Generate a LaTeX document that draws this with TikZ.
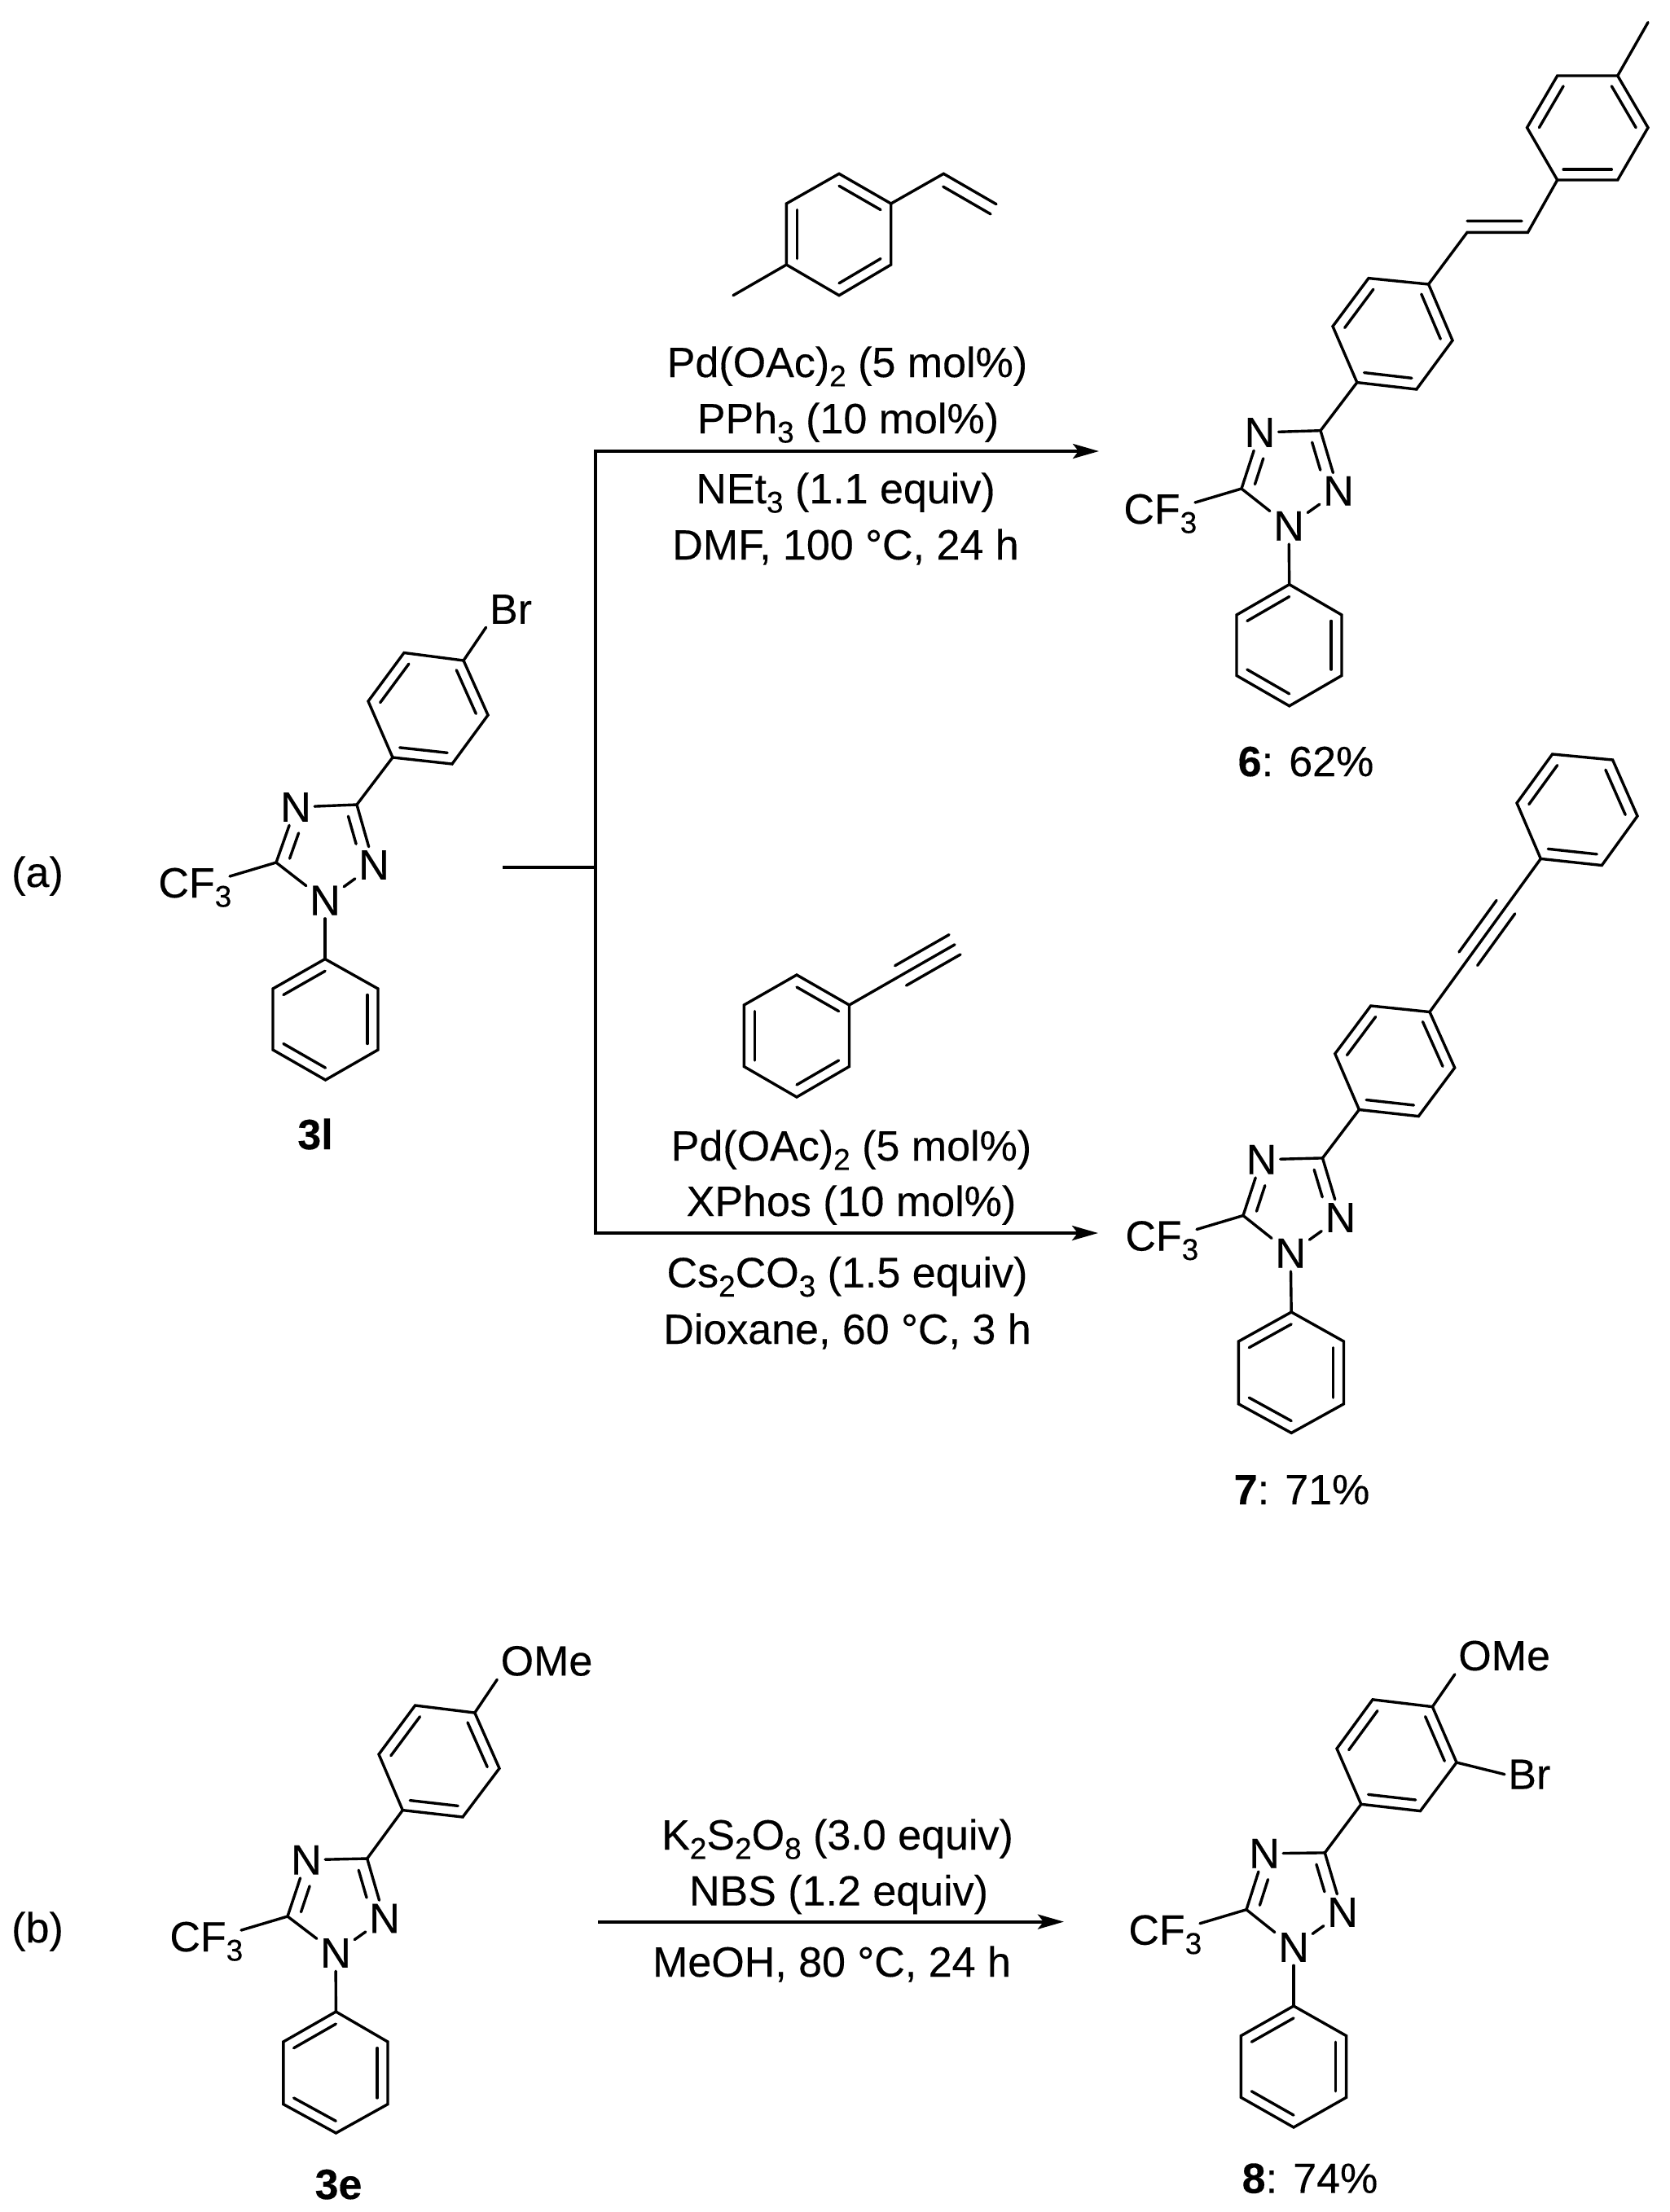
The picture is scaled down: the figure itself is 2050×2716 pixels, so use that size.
\documentclass[tikz,border=0pt]{standalone}
\usepackage{fontspec}
\setmainfont{Liberation Sans}[FakeBold=0.25]
\usetikzlibrary{calc}
\usetikzlibrary{arrows.meta}

\tikzset{
  bond/.style={line width=1.7pt, line cap=round},
  rxnline/.style={line width=2pt},
  rxnarrow/.style={line width=2pt, -{Stealth[length=16pt,width=9pt,inset=3.5pt]}},
  atom/.style={inner sep=2pt, font=\fontsize{26}{30}\selectfont},
  lab/.style={inner sep=0pt, anchor=base, font=\fontsize{26}{30}\selectfont}
}

\newcommand{\chemsub}[1]{\raisebox{-0.22em}{\fontsize{18.5}{18.5}\selectfont #1}}

% inner line of a double or triple bond
\newcommand{\sidebond}[5]{\draw[bond] ($(#1)!#3!(#2)+(#1)!7pt!#5:(#2)-(#1)$) -- ($(#1)!#4!(#2)+(#1)!7pt!#5:(#2)-(#1)$);}

% six vertices, double bonds on 1-2, 3-4, 5-6
\newcommand{\benzring}[7]{
  \coordinate (#11) at #2; \coordinate (#12) at #3; \coordinate (#13) at #4;
  \coordinate (#14) at #5; \coordinate (#15) at #6; \coordinate (#16) at #7;
  \coordinate (#1m) at ($(#11)!.5!(#14)$);
  \draw[bond] (#11) -- (#12) -- (#13) -- (#14) -- (#15) -- (#16) -- cycle;
  \foreach \a/\b in {1/2,3/4,5/6}
    {\draw[bond] ($(#1m)!.8!(#1\a)$) -- ($(#1m)!.8!(#1\b)$);}
}

% C3, N4, C5, N2, N1 of the ring, with its CF3
\newcommand{\triazole}[6]{
  \coordinate (#1c3) at #2;
  \node[atom] (#1n4) at #3 {N};
  \coordinate (#1c5) at #4;
  \node[atom] (#1n2) at #5 {N};
  \node[atom] (#1n1) at #6 {N};
  \coordinate (#1x) at ($(#1c5)+(-57,17)$);
  \node[atom, inner sep=0pt, anchor=base west] (#1cf) at ($(#1c5)+(-145,43)$) {CF\chemsub{3}};
  \draw[bond] (#1c3) -- (#1n4);
  \draw[bond] (#1c3) -- (#1n2);
  \draw[bond] (#1c5) -- (#1n4);
  \draw[bond] (#1c5) -- (#1n1);
  \draw[bond] (#1n1) -- (#1n2);
  \draw[bond] (#1c5) -- (#1x);
  \sidebond{#1c3}{#1n2}{.14}{.6}{-90}
  \sidebond{#1c5}{#1n4}{.14}{.6}{-90}
}

\begin{document}
\begin{tikzpicture}[x=0.5pt,y=-0.5pt]
  \useasboundingbox (0,0) rectangle (2050,2716);

  % (a), starting material
  \node[lab] (tagA) at (46,1089) {(a)};
  \benzring{a}{(452,861)}{(496,801.5)}{(569,811)}{(599,878)}{(555,938)}{(482,930)}
  \benzring{p}{(335,1214)}{(399,1177.5)}{(464,1214)}{(464,1289)}{(399.5,1326)}{(335,1289)}
  \triazole{t}{(438,988)}{(363,991)}{(339,1059)}{(459,1062)}{(399,1105.6)}
  \node[atom] (br) at (627,748) {Br};
  \draw[bond] (a3) -- (br.south west);
  \draw[bond] (tc3) -- (a6);
  \draw[bond] (tn1) -- (p2);
  \node[lab] (sm) at (387,1411) {\textbf{3l}};

  % branching arrows
  \coordinate (stub) at (617,1065);
  \coordinate (fork) at (731,1065);
  \coordinate (forkUp) at (731,554);
  \coordinate (forkDn) at (731,1514);
  \coordinate (tipUp) at (1349,554);
  \coordinate (tipDn) at (1348,1514);
  \draw[rxnline] (stub) -- (fork);
  \draw[rxnline, line cap=rect] (forkUp) -- (forkDn);
  \draw[rxnarrow] (forkUp) -- (tipUp);
  \draw[rxnarrow] (forkDn) -- (tipDn);

  % vinyl toluene
  \benzring{v}{(1030,213.3)}{(1093.75,250)}{(1093.75,325)}{(1030,362.7)}{(965.4,325)}{(965.4,250)}
  \coordinate (vme) at (900,362.7);
  \coordinate (vch) at (1158.3,213.3);
  \coordinate (vcb) at (1223,250.7);
  \draw[bond] (v5) -- (vme);
  \draw[bond] (v2) -- (vch) -- (vcb);
  \sidebond{vch}{vcb}{.1}{1}{-90}
  \node[lab] (upA) at (1040,463) {Pd(OAc)\chemsub{2} (5 mol\%)};
  \node[lab] (upB) at (1041,532) {PPh\chemsub{3} (10 mol\%)};
  \node[lab] (upC) at (1038,618) {NEt\chemsub{3} (1.1 equiv)};
  \node[lab] (upD) at (1038,687) {DMF, 100 °C, 24 h};

  % product 6
  \benzring{e}{(1874.5,156.7)}{(1911.7,93)}{(1985.7,93)}{(2023,156.7)}{(1985.7,221)}{(1911.7,221)}
  \benzring{f}{(1636,400.7)}{(1680,341.6)}{(1753.6,349)}{(1783,418)}{(1738.8,478)}{(1665.8,469.6)}
  \benzring{g}{(1518,755)}{(1582.7,717.6)}{(1647,755)}{(1647,829.5)}{(1582.7,866.8)}{(1518,829.5)}
  \triazole{u}{(1621,528.7)}{(1546.4,531)}{(1524,600)}{(1643,602.8)}{(1582,645.8)}
  \coordinate (eme) at (2023,27.5);
  \coordinate (ea) at (1801,285.3);
  \coordinate (eb) at (1875.5,285.3);
  \draw[bond] (e3) -- (eme);
  \draw[bond] (f3) -- (ea) -- (eb) -- (e6);
  \sidebond{ea}{eb}{0}{.9}{90}
  \draw[bond] (uc3) -- (f6);
  \draw[bond] (un1) -- (g2);
  \node[lab] (prodA) at (1603,953) {\textbf{6}: 62\%};

  % phenylacetylene
  \benzring{h}{(978,1197)}{(1042.5,1234)}{(1042.5,1309.5)}{(978,1347)}{(913.3,1309.5)}{(913.3,1234)}
  \coordinate (hend) at (1172,1159.8);
  \draw[bond] (h2) -- (hend);
  \sidebond{h2}{hend}{.487}{1}{90}
  \sidebond{h2}{hend}{.487}{1}{-90}
  \node[lab] (dnA) at (1045,1425) {Pd(OAc)\chemsub{2} (5 mol\%)};
  \node[lab] (dnB) at (1045,1493) {XPhos (10 mol\%)};
  \node[lab] (dnC) at (1040,1580.5) {Cs\chemsub{2}CO\chemsub{3} (1.5 equiv)};
  \node[lab] (dnD) at (1040,1650) {Dioxane, 60 °C, 3 h};

  % product 7
  \benzring{i}{(1862,986)}{(1905.6,926)}{(1979.6,933)}{(2010,1002)}{(1966.3,1062.5)}{(1891.3,1054.4)}
  \benzring{j}{(1638.8,1293.8)}{(1682.7,1235)}{(1755,1242.5)}{(1785.7,1311)}{(1741.3,1370.6)}{(1668.4,1362.5)}
  \benzring{k}{(1520.4,1647)}{(1585.2,1611)}{(1649.5,1647)}{(1649.5,1723.8)}{(1585.2,1759.4)}{(1520.4,1723.8)}
  \triazole{w}{(1623.5,1421.9)}{(1548.5,1423.8)}{(1526,1492.5)}{(1645.4,1495)}{(1584.2,1538.8)}
  \draw[bond] (j3) -- (i6);
  \sidebond{j3}{i6}{.347}{.685}{90}
  \sidebond{j3}{i6}{.347}{.685}{-90}
  \draw[bond] (wc3) -- (j6);
  \draw[bond] (wn1) -- (k2);
  \node[lab] (prodB) at (1598,1847) {\textbf{7}: 71\%};

  % (b), starting material
  \node[lab] (tagB) at (46,2385) {(b)};
  \benzring{l}{(465,2154)}{(509.6,2094)}{(582.8,2103)}{(613,2171.3)}{(568,2231)}{(494.3,2222.6)}
  \benzring{m}{(347.8,2507)}{(412.4,2470)}{(476,2507)}{(476,2583.6)}{(412.4,2619)}{(347.8,2583.6)}
  \triazole{y}{(450.7,2282)}{(376,2283.7)}{(353,2353)}{(472,2355.5)}{(412,2398)}
  \node[atom] (ome) at (671,2039.4) {OMe};
  \draw[bond] (l3) -- (ome.south west);
  \draw[bond] (yc3) -- (l6);
  \draw[bond] (yn1) -- (m2);
  \node[lab] (smB) at (415.5,2700) {\textbf{3e}};

  % bromination
  \coordinate (tailB) at (734,2359.6);
  \coordinate (tipB) at (1306,2359.6);
  \draw[rxnarrow] (tailB) -- (tipB);
  \node[lab] (brA) at (1028,2271) {K\chemsub{2}S\chemsub{2}O\chemsub{8} (3.0 equiv)};
  \node[lab] (brB) at (1029.5,2339.6) {NBS (1.2 equiv)};
  \node[lab] (brC) at (1021,2427) {MeOH, 80 °C, 24 h};

  % product 8
  \benzring{n}{(1641,2147)}{(1685,2086.8)}{(1758.4,2095.6)}{(1788,2164)}{(1743.5,2223.6)}{(1670.8,2215.3)}
  \benzring{o}{(1523.4,2499.6)}{(1588,2463)}{(1652.6,2499.6)}{(1652.6,2575.3)}{(1588,2612)}{(1523.4,2575.3)}
  \triazole{z}{(1626.3,2274.9)}{(1552,2275.8)}{(1530,2344.7)}{(1648,2348)}{(1588,2391)}
  \node[atom] (omeB) at (1846.6,2033) {OMe};
  \node[atom] (brom) at (1877.3,2178.6) {Br};
  \draw[bond] (n3) -- (omeB.south west);
  \draw[bond] (n4) -- (brom.west);
  \draw[bond] (zc3) -- (n6);
  \draw[bond] (zn1) -- (o2);
  \node[lab] (prodC) at (1608,2692.6) {\textbf{8}: 74\%};
\end{tikzpicture}
\end{document}
